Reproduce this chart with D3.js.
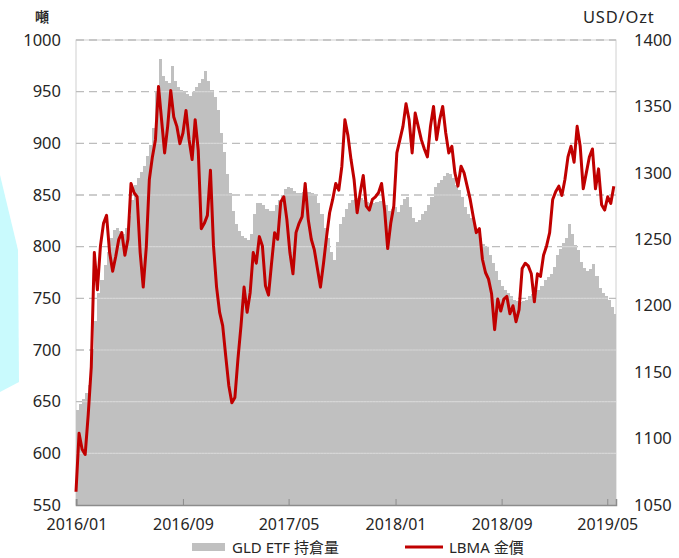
<!DOCTYPE html>
<html>
<head>
<meta charset="utf-8">
<script src="https://cdn.jsdelivr.net/npm/d3@7"></script>
<style>
  body { margin: 0; background: #fff; }
  text { font-family: "Noto Sans", "Noto Sans CJK TC", sans-serif; fill: #262626; }
</style>
</head>
<body>
<div id="chart"></div>
<script>
// Weekly observations, first one on 2015/12/31
var startDate = new Date(2015, 11, 31);

// GLD ETF holdings (tonnes), one per week
var gldHoldings = [
  642, 648, 653, 658, 666, 700, 728, 755, 768, 782,
  795, 808, 816, 818, 815, 812, 818, 830, 845, 860,
  866, 872, 878, 888, 898, 915, 950, 982, 965, 960,
  958, 975, 960, 955, 952, 950, 948, 946, 950, 955,
  958, 962, 970, 960, 952, 945, 932, 910, 892, 870,
  852, 835, 822, 815, 810, 808, 806, 812, 832, 842,
  842, 840, 836, 835, 835, 840, 845, 850, 856, 858,
  857, 854, 852, 852, 853, 853, 853, 852, 850, 842,
  832, 818, 808, 795, 787, 805, 822, 829, 836, 842,
  845, 846, 847, 847, 845, 843, 842, 842, 843, 844,
  845, 840, 835, 836, 838, 834, 840, 846, 848, 838,
  828, 824, 826, 832, 835, 840, 848, 858, 862, 865,
  868, 871, 870, 866, 860, 855, 848, 838, 832, 828,
  823, 814, 808, 803, 800, 792, 784, 776, 768, 762,
  758, 755, 752, 748, 747, 746, 747, 748, 752, 754,
  755, 758, 762, 768, 771, 774, 780, 792, 798, 804,
  808, 822, 812, 802, 797, 785, 779, 776, 778, 783,
  772, 760, 755, 752, 748, 742, 735
];

// LBMA gold price (USD/oz), one per week
var goldPrice = [
  1060, 1104, 1092, 1088, 1118, 1154, 1240, 1212, 1245, 1262,
  1268, 1240, 1226, 1237, 1250, 1255, 1238, 1250, 1292, 1285,
  1282, 1240, 1214, 1244, 1295, 1312, 1325, 1365, 1340, 1315,
  1335, 1362, 1342, 1335, 1322, 1330, 1347, 1325, 1310, 1340,
  1317, 1258, 1262, 1268, 1302, 1245, 1214, 1195, 1185, 1162,
  1140, 1127, 1131, 1160, 1185, 1214, 1195, 1210, 1240, 1232,
  1252, 1245, 1215, 1208, 1232, 1255, 1250, 1278, 1282, 1265,
  1240, 1224, 1255, 1262, 1267, 1292, 1265, 1250, 1242, 1228,
  1214, 1232, 1252, 1270, 1280, 1292, 1287, 1305, 1340, 1328,
  1310, 1295, 1270, 1285, 1298, 1275, 1272, 1280, 1282, 1285,
  1292, 1272, 1243, 1262, 1275, 1315, 1325, 1335, 1352, 1340,
  1315, 1345, 1335, 1325, 1318, 1312, 1335, 1350, 1325, 1340,
  1350, 1330, 1315, 1320, 1300, 1290, 1305, 1300, 1290, 1280,
  1267, 1255, 1258, 1235, 1225, 1220, 1209, 1182, 1205, 1196,
  1205, 1207, 1194, 1200, 1188, 1197, 1228, 1232, 1230, 1224,
  1203, 1224, 1222, 1238, 1245, 1255, 1280, 1286, 1290, 1283,
  1295, 1312, 1320, 1308, 1335, 1320, 1288, 1300, 1312, 1318,
  1288, 1303, 1276, 1272, 1282, 1277, 1290
];

var leftTicks = [550, 600, 650, 700, 750, 800, 850, 900, 950, 1000];
var rightTicks = [1050, 1100, 1150, 1200, 1250, 1300, 1350, 1400];
var xTickLabels = ["2016/01", "2016/09", "2017/05", "2018/01", "2018/09", "2019/05"];

var weeks = gldHoldings.map(function(d, i) { return d3.timeDay.offset(startDate, 7 * i); });

// Setup chart dimensions
var svgWidth = 679;
var svgHeight = 558;
var margin = { top: 40, right: 63, bottom: 53, left: 76 };
var width = svgWidth - margin.left - margin.right;
var height = svgHeight - margin.top - margin.bottom;

var svg = d3.select("#chart")
  .append("svg")
  .attr("width", svgWidth)
  .attr("height", svgHeight);

// light cyan shape on the left edge of the picture
svg.append("path")
  .attr("d", "M0,175 L18,250 L19,382 L0,392 Z")
  .attr("fill", "#c9fafd");

var chartGroup = svg.append("g")
  .attr("transform", `translate(${margin.left}, ${margin.top})`);

// Scales
var xTimeScale = d3.scaleTime()
  .domain([startDate, new Date(2019, 4, 21)])
  .range([0, width]);

var yLeft = d3.scaleLinear().domain([550, 1000]).range([height, 0]);
var yRight = d3.scaleLinear().domain([1050, 1400]).range([height, 0]);

// frame
chartGroup.append("rect")
  .attr("width", width)
  .attr("height", height)
  .attr("fill", "none")
  .attr("stroke", "#d0d0d0")
  .attr("stroke-width", 1);

// dashed gridlines
chartGroup.append("g")
  .selectAll("line")
  .data(leftTicks.slice(1))
  .enter()
  .append("line")
  .attr("x1", 0)
  .attr("x2", width)
  .attr("y1", d => yLeft(d))
  .attr("y2", d => yLeft(d))
  .attr("stroke", "#bdbdbd")
  .attr("stroke-width", 1.4)
  .attr("stroke-dasharray", "8,5");

// bars for GLD holdings
var barData = gldHoldings.map(function(v, i) { return { date: weeks[i], value: v }; });
function barX(d) { return xTimeScale(d.date); }
function barW(d) { return Math.min(width, xTimeScale(d3.timeDay.offset(d.date, 7))) - xTimeScale(d.date); }

chartGroup.append("g")
  .selectAll("rect")
  .data(barData)
  .enter()
  .append("rect")
  .attr("x", barX)
  .attr("width", barW)
  .attr("y", d => yLeft(d.value))
  .attr("height", d => height - yLeft(d.value))
  .attr("fill", "#c0c0c0")
  .attr("shape-rendering", "crispEdges");

// gridlines show through the bars as lighter lines
var clip = chartGroup.append("clipPath").attr("id", "barClip");
clip.selectAll("rect")
  .data(barData)
  .enter()
  .append("rect")
  .attr("x", barX)
  .attr("width", barW)
  .attr("y", d => yLeft(d.value))
  .attr("height", d => height - yLeft(d.value));

chartGroup.append("g")
  .attr("clip-path", "url(#barClip)")
  .selectAll("line")
  .data(leftTicks.slice(1))
  .enter()
  .append("line")
  .attr("x1", 0)
  .attr("x2", width)
  .attr("y1", d => yLeft(d))
  .attr("y2", d => yLeft(d))
  .attr("stroke", "#d6d6d6")
  .attr("stroke-width", 1.2);

// gold price line
var priceLine = d3.line()
  .x((d, i) => xTimeScale(weeks[i]))
  .y(d => yRight(d));

chartGroup.append("path")
  .datum(goldPrice)
  .attr("d", priceLine)
  .attr("fill", "none")
  .attr("stroke", "#c00000")
  .attr("stroke-width", 3)
  .attr("stroke-linejoin", "round");

// bottom axis
var tickDates = xTickLabels.map(function(s) {
  var p = s.split("/");
  return new Date(+p[0], +p[1] - 1, 1);
});
var bottomAxis = d3.axisBottom(xTimeScale)
  .tickValues(tickDates)
  .tickSize(-6)
  .tickPadding(14)
  .tickFormat((d, i) => xTickLabels[i]);

var xAxis = chartGroup.append("g")
  .attr("transform", `translate(0, ${height})`)
  .call(bottomAxis);
xAxis.select(".domain").attr("stroke", "#8c8c8c").attr("stroke-width", 1.5);
xAxis.selectAll(".tick line").attr("stroke", "#8c8c8c");
xAxis.selectAll("text").style("font-size", "16px").attr("fill", "#262626");

// left axis
var leftAxis = d3.axisLeft(yLeft)
  .tickValues(leftTicks)
  .tickFormat(d3.format("d"))
  .tickSize(0)
  .tickPadding(15);
var yAxisL = chartGroup.append("g").call(leftAxis);
yAxisL.select(".domain").remove();
yAxisL.selectAll("text").style("font-size", "16.5px").attr("fill", "#262626");

// right axis
var rightAxis = d3.axisRight(yRight)
  .tickValues(rightTicks)
  .tickFormat(d3.format("d"))
  .tickSize(0)
  .tickPadding(18);
var yAxisR = chartGroup.append("g")
  .attr("transform", `translate(${width}, 0)`)
  .call(rightAxis);
yAxisR.select(".domain").remove();
yAxisR.selectAll("text").style("font-size", "16.5px").attr("fill", "#262626");

// unit labels
svg.append("text")
  .attr("x", 35)
  .attr("y", 22)
  .style("font-size", "14px")
  .style("font-weight", "bold")
  .attr("fill", "#444")
  .text("噸");

svg.append("text")
  .attr("x", 583)
  .attr("y", 23)
  .style("font-size", "16.5px")
  .style("letter-spacing", "0.8px")
  .text("USD/Ozt");

// legend
var legendY = 547;
var legend = svg.append("g");
legend.append("rect")
  .attr("x", 192)
  .attr("y", legendY - 4)
  .attr("width", 33)
  .attr("height", 8)
  .attr("fill", "#c0c0c0");
legend.append("text")
  .attr("x", 232)
  .attr("y", legendY)
  .attr("dominant-baseline", "central")
  .style("font-size", "15px")
  .text("GLD ETF 持倉量");
legend.append("line")
  .attr("x1", 405)
  .attr("x2", 443)
  .attr("y1", legendY)
  .attr("y2", legendY)
  .attr("stroke", "#c00000")
  .attr("stroke-width", 3);
legend.append("text")
  .attr("x", 449)
  .attr("y", legendY)
  .attr("dominant-baseline", "central")
  .style("font-size", "15px")
  .text("LBMA 金價");
</script>
</body>
</html>
